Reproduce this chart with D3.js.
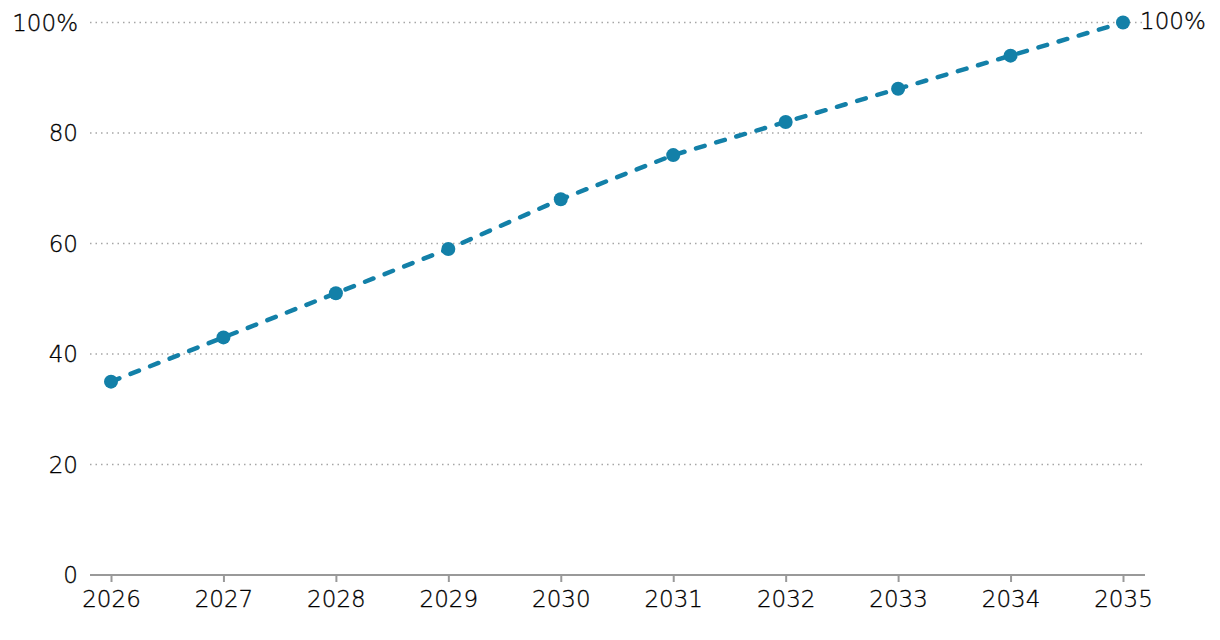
<!DOCTYPE html>
<html>
<head>
<meta charset="utf-8">
<script src="https://cdn.jsdelivr.net/npm/d3@7"></script>
<style>
  body { margin: 0; background: #fff; }
  text { font-family: "DejaVu Sans", sans-serif; font-weight: 200; fill: #000; }
</style>
</head>
<body>
<div id="chart"></div>
<script>
var years = [2026, 2027, 2028, 2029, 2030, 2031, 2032, 2033, 2034, 2035];
var values = [35, 43, 51, 59, 68, 76, 82, 88, 94, 100];
var yTicks = [0, 20, 40, 60, 80, 100];

var svgWidth = 1220;
var svgHeight = 640;
var margin = { top: 22.5, right: 75, bottom: 65, left: 90 };
var width = svgWidth - margin.left - margin.right;
var height = svgHeight - margin.top - margin.bottom;

var svg = d3.select("#chart")
  .append("svg")
  .attr("width", svgWidth)
  .attr("height", svgHeight);

var g = svg.append("g")
  .attr("transform", `translate(${margin.left}, ${margin.top})`);

var x = d3.scaleLinear()
  .domain([2026, 2035])
  .range([21, width - 22]);

var y = d3.scaleLinear()
  .domain([0, 100])
  .range([height, 0]);

// gridlines
g.selectAll(".grid")
  .data(yTicks.filter(d => d > 0))
  .enter()
  .append("line")
  .attr("x1", 0)
  .attr("x2", width)
  .attr("y1", d => y(d))
  .attr("y2", d => y(d))
  .attr("stroke", "#a6a6a6")
  .attr("stroke-width", 1.5)
  .attr("stroke-dasharray", "1.5,4");

// y labels
g.selectAll(".ylab")
  .data(yTicks)
  .enter()
  .append("text")
  .attr("x", -12)
  .attr("y", d => y(d))
  .attr("dy", "0.35em")
  .attr("text-anchor", "end")
  .attr("font-size", "23px")
  .attr("stroke", "#000")
  .attr("stroke-width", 0.3)
  .text(d => d === 100 ? "100%" : d);

// x axis
var xAxis = d3.axisBottom(x)
  .tickValues(years)
  .tickFormat(d3.format("d"))
  .tickSize(7)
  .tickPadding(9);

var xg = g.append("g")
  .attr("transform", `translate(0, ${height})`)
  .call(xAxis);
xg.select(".domain").remove();
xg.insert("line", ":first-child")
  .attr("x1", 0)
  .attr("x2", width)
  .attr("stroke", "#999")
  .attr("stroke-width", 2);
xg.selectAll(".tick line").attr("stroke", "#999").attr("stroke-width", 2);
xg.selectAll(".tick text")
  .attr("font-size", "23px")
  .attr("font-family", "'DejaVu Sans', sans-serif")
  .attr("font-weight", 200)
  .attr("fill", "#000")
  .attr("stroke", "#000")
  .attr("stroke-width", 0.3);

// line
var line = d3.line()
  .x((d, i) => x(years[i]))
  .y(d => y(d));

g.append("path")
  .datum(values)
  .attr("fill", "none")
  .attr("stroke", "#1380a8")
  .attr("stroke-width", 4.5)
  .attr("stroke-dasharray", "9,12")
  .attr("stroke-linecap", "round")
  .attr("d", line);

g.selectAll(".dot")
  .data(values)
  .enter()
  .append("circle")
  .attr("cx", (d, i) => x(years[i]))
  .attr("cy", d => y(d))
  .attr("r", 7)
  .attr("fill", "#1380a8");

// end label
g.append("text")
  .attr("x", x(years[years.length - 1]) + 17)
  .attr("y", y(values[values.length - 1]))
  .attr("dy", "0.3em")
  .attr("font-size", "23px")
  .attr("stroke", "#000")
  .attr("stroke-width", 0.3)
  .text(values[values.length - 1] + "%");
</script>
</body>
</html>
